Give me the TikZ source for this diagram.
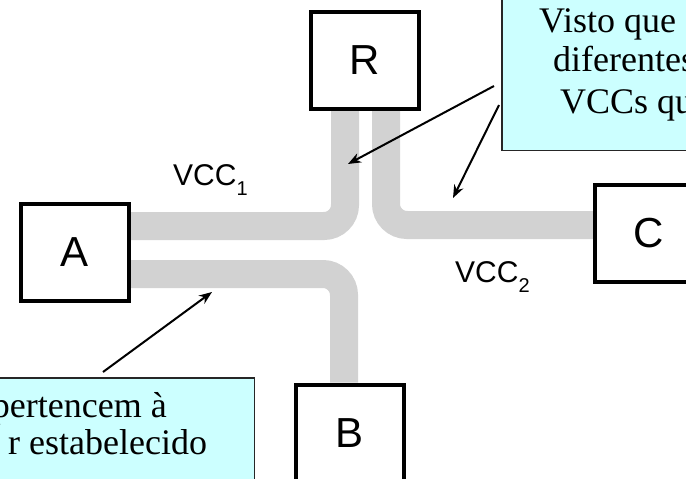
\documentclass[tikz,border=0pt]{standalone}
\usepackage{fontspec}
\setmainfont{Liberation Serif}
\setsansfont{Liberation Sans}
\usetikzlibrary{arrows.meta,positioning,backgrounds}

\definecolor{pathgray}{RGB}{210,210,210}
\definecolor{notecyan}{RGB}{204,255,255}

\tikzset{
  station/.style={draw=black,line width=4pt,fill=white,minimum width=108pt,minimum height=97pt,inner sep=0pt,font=\sffamily\fontsize{42}{48}\selectfont},
  vccband/.style={draw=pathgray,line width=28pt,rounded corners=21pt},
  notebox/.style={draw=black!85,line width=1.5pt,fill=notecyan,inner sep=0pt},
  notetext/.style={anchor=base west,inner sep=0pt,font=\fontsize{36}{40}\selectfont},
  pointer/.style={line width=2pt,-{Stealth[length=13pt,width=10pt]}},
}
\newcommand{\vcclabel}[1]{VCC\raisebox{-10pt}{\fontsize{20}{20}\selectfont #1}}

\begin{document}
\begin{tikzpicture}[x=1pt,y=1pt,yscale=-1]
\useasboundingbox (0,0) rectangle (686,479);

% Stations
\node[station] (R) at (365,60.5) {R};
\node[station] (A) at (75,252) {A};
\node[station] (B) at (350,433) {B};
\node[station] (C) at (649,233.5) {C};

% VCC paths
\begin{scope}[on background layer]
\draw[vccband] ([yshift=-26pt]A.east) -| ([xshift=-20pt]R.south);
\draw[vccband] ([yshift=22pt]A.east) -| ([xshift=-6pt]B.north);
\draw[vccband] ([xshift=21pt]R.south) |- ([yshift=-8.5pt]C.west);
\end{scope}

% Text Node
\node[anchor=base west,inner sep=0pt,font=\sffamily\fontsize{30}{30}\selectfont] (vcc1) at (173,185) {\vcclabel{1}};
% Text Node
\node[anchor=base west,inner sep=0pt,font=\sffamily\fontsize{30}{30}\selectfont] (vcc2) at (455,282) {\vcclabel{2}};

% Callout top right
\node[notebox,anchor=south west,minimum width=220pt,minimum height=170pt] (note1) at (501,151) {};
\node[notetext] (note1a) at (539,32) {Visto que};
\node[notetext] (note1b) at (553,71) {diferentes};
\node[notetext] (note1c) at (560,113) {VCCs qu};

% Callout bottom left
\node[notebox,anchor=north east,minimum width=280pt,minimum height=120pt] (note2) at (255,377) {};
\node[notetext,anchor=base east] (note2a) at (167,417) {pertencem à};
\node[notetext] (note2b) at (8,454) {r estabelecido};

% Pointers
\coordinate (p1s) at (494,86);
\coordinate (p1e) at (348,164);
\coordinate (p2s) at (499,105);
\coordinate (p2e) at (453,198);
\coordinate (p3s) at (103,372);
\coordinate (p3e) at (212,292);
\draw[pointer] (p1s) -- (p1e);
\draw[pointer] (p2s) -- (p2e);
\draw[pointer] (p3s) -- (p3e);
\end{tikzpicture}
\end{document}
